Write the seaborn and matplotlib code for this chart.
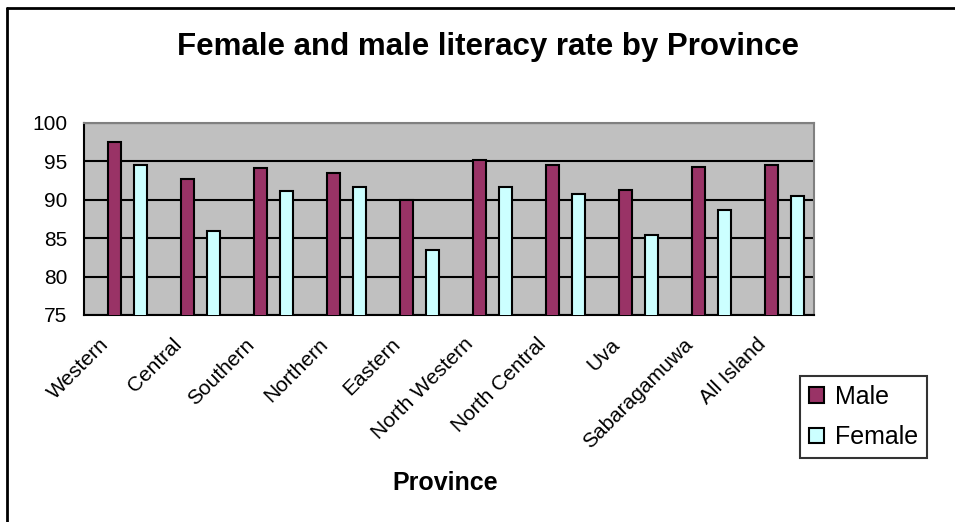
import matplotlib
matplotlib.use("Agg")
import matplotlib.pyplot as plt
import matplotlib.lines as mlines
import numpy as np
import pandas as pd
import seaborn as sns

provinces = ["Western", "Central", "Southern", "Northern", "Eastern",
             "North Western", "North Central", "Uva", "Sabaragamuwa", "All Island"]
male = [97.5, 92.7, 94.2, 93.5, 90.0, 95.2, 94.5, 91.3, 94.3, 94.5]
female = [94.5, 86.0, 91.2, 91.7, 83.4, 91.7, 90.7, 85.4, 88.7, 90.5]
yticks = [75, 80, 85, 90, 95, 100]

df = pd.DataFrame({
    "Province": provinces * 2,
    "Rate": male + female,
    "Sex": ["Male"] * len(provinces) + ["Female"] * len(provinces),
})

sns.set_style("white")
plt.rcParams["font.family"] = ["Liberation Sans", "DejaVu Sans"]
plt.rcParams["text.color"] = "black"
plt.rcParams["xtick.color"] = "black"
plt.rcParams["ytick.color"] = "black"
plt.rcParams["axes.labelcolor"] = "black"

fig = plt.figure(figsize=(9.55, 5.22), dpi=100)
ax = fig.add_axes([84 / 955, 1 - 315 / 522, (814 - 84) / 955, (315 - 123) / 522])
ax.set_facecolor("#C0C0C0")

sns.barplot(data=df, x="Province", y="Rate", hue="Sex", order=provinces,
            hue_order=["Male", "Female"], palette=["#993366", "#CCFFFF"],
            edgecolor="black", linewidth=1.5, width=0.712, gap=0.47,
            saturation=1, ax=ax, zorder=3)

ax.set_ylim(75, 100)
ax.set_xlim(-0.596, len(provinces) - 0.596)
ax.set_yticks(yticks)
ax.set_yticklabels([str(v) for v in yticks], fontsize=15)
ax.yaxis.grid(True, color="black", linewidth=1.5, zorder=1)
ax.set_axisbelow(True)

pos = np.arange(len(provinces))
ax.set_xticks(pos - 0.3)
ax.set_xticklabels(provinces, rotation=45, ha="right", va="center",
                   rotation_mode="anchor", fontsize=15)
ax.set_xticks(np.arange(len(provinces) + 1) - 0.596, minor=True)
ax.tick_params(axis="x", which="major", length=0, pad=19)
ax.tick_params(axis="x", which="minor", length=6, width=1.2, color="black", direction="out")
ax.tick_params(axis="y", length=6, width=1.2, color="black", direction="out", pad=6)

for s in ["left", "bottom"]:
    ax.spines[s].set_color("black")
    ax.spines[s].set_linewidth(1.5)
for s in ["top", "right"]:
    ax.spines[s].set_color("#808080")
    ax.spines[s].set_linewidth(1.5)
    ax.spines[s].set_visible(True)

ax.set_xlabel("Province", fontsize=18, fontweight="bold")
ax.xaxis.set_label_coords((445 - 84) / (814 - 84), -(483 - 315) / (315 - 123))
ax.xaxis.label.set_va("center")
ax.set_ylabel("")

handles, labels = ax.get_legend_handles_labels()
ax.get_legend().remove()
leg = fig.legend(handles, labels, loc="lower left", bbox_to_anchor=(800 / 955, 1 - 458 / 522),
                 fontsize=18, frameon=True, fancybox=False, edgecolor="black",
                 handlelength=0.6, handleheight=0.6, handletextpad=0.45,
                 labelspacing=0.65, borderpad=0.35, borderaxespad=0)
leg.get_frame().set_linewidth(1.5)

fig.text(488 / 955, 1 - 47 / 522, "Female and male literacy rate by Province",
         ha="center", va="center", fontsize=22.5, fontweight="bold")

fig.add_artist(mlines.Line2D([7 / 955, 7 / 955], [0, 1 - 8 / 522], color="black",
                             linewidth=2, transform=fig.transFigure))
fig.add_artist(mlines.Line2D([7 / 955, 1], [1 - 8 / 522, 1 - 8 / 522], color="black",
                             linewidth=2, transform=fig.transFigure))

fig.savefig("out.png", dpi=100, facecolor="white")
